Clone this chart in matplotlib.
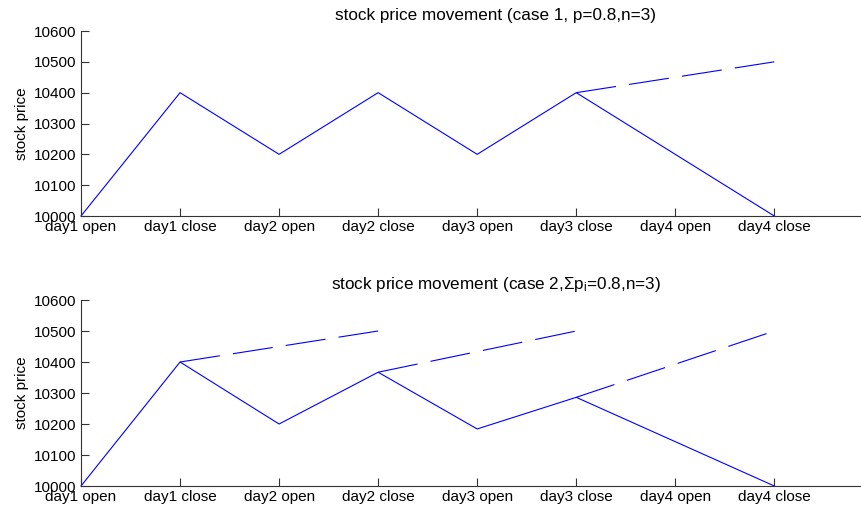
import matplotlib
matplotlib.use("Agg")
import matplotlib.pyplot as plt
import numpy as np

plt.rcParams['font.family'] = ['Liberation Sans', 'DejaVu Sans']
plt.rcParams['mathtext.fontset'] = 'custom'
plt.rcParams['mathtext.rm'] = 'Liberation Sans'
plt.rcParams['mathtext.it'] = 'Liberation Sans'
plt.rcParams['lines.scale_dashes'] = False

# data
labels = ['day1 open', 'day1 close', 'day2 open', 'day2 close',
          'day3 open', 'day3 close', 'day4 open', 'day4 close']
case1_path = [10000, 10400, 10200, 10400, 10200, 10400, 10200, 10000]
case1_dash_x = [5, 7]
case1_dash_y = [10400, 10500]

case2_path = [10000, 10400, 10200, 10367, 10184, 10286, 10143, 10000]
case2_dash_x = [[1, 3], [3, 5], [5, 7]]
case2_dash_y = [[10400, 10500], [10367, 10500], [10286, 10500]]

titles = ['stock price movement (case 1, p=0.8,n=3)',
          r'stock price movement (case 2,$\Sigma$p$_{\mathrm{i}}$=0.8,n=3)']
yticks = [10000, 10100, 10200, 10300, 10400, 10500, 10600]

W, H = 862, 511
fig = plt.figure(figsize=(W / 100, H / 100), dpi=100)

blue = '#0000ff'
dash = (29, 9.5)

def setup(ax, title):
    ax.set_xlim(0, 8.38)
    ax.set_ylim(10000, 10600)
    ax.set_xticks(np.arange(len(labels)))
    ax.set_xticklabels(labels)
    ax.set_yticks(yticks)
    ax.tick_params(direction='in', length=6, width=0.8, colors='#333333',
                   labelcolor='black', labelsize=11, pad=3)
    ax.spines['top'].set_visible(False)
    ax.spines['right'].set_visible(False)
    for s in ['left', 'bottom']:
        ax.spines[s].set_color('#333333')
        ax.spines[s].set_linewidth(0.8)
    ax.set_ylabel('stock price', fontsize=11, labelpad=4)
    ax.set_title(title, fontsize=12.3, pad=8)

x = np.arange(len(labels))

ax1 = fig.add_axes([81 / W, 1 - 216 / H, (911 - 81) / W, 185 / H])
setup(ax1, titles[0])
ax1.plot(x, case1_path, color=blue, lw=0.8, clip_on=False)
ax1.plot(case1_dash_x, case1_dash_y, color=blue, lw=0.8, dashes=dash, clip_on=False)

ax2 = fig.add_axes([81 / W, 1 - 486 / H, (911 - 81) / W, 186 / H])
setup(ax2, titles[1])
ax2.plot(x, case2_path, color=blue, lw=0.8, clip_on=False)
for dx, dy in zip(case2_dash_x, case2_dash_y):
    ax2.plot(dx, dy, color=blue, lw=0.8, dashes=dash, clip_on=False)

fig.savefig('out.png', dpi=100)
